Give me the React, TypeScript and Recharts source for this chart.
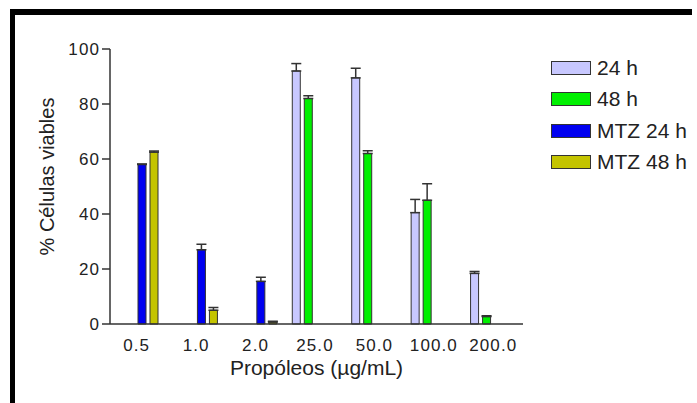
import { BarChart, Bar, XAxis, YAxis, ErrorBar } from "recharts";

const categories = ["0.5", "1.0", "2.0", "25.0", "50.0", "100.0", "200.0"];
const h24 = [null, null, null, 92, 89.5, 40.5, 18.4];
const h24Err = [null, null, null, 2.7, 3.5, 4.8, 0.7];
const h48 = [null, null, null, 82, 62, 45, 2.7];
const h48Err = [null, null, null, 1, 1, 6, 0.3];
const mtz24 = [58, 27, 15.5, null, null, null, null];
const mtz24Err = [0.2, 2, 1.5, null, null, null, null];
const mtz48 = [62.5, 5, 0.7, null, null, null, null];
const mtz48Err = [0.4, 1, 0.3, null, null, null, null];
const yTicks = [0, 20, 40, 60, 80, 100];

const FONT = "'Liberation Sans', Arial, sans-serif";
const INK = "#222";
const EDGE = "#333";
const TICK = { fontFamily: FONT, fontSize: 17, fill: INK, letterSpacing: 1.1 };

const series = [
  { key: "h24", name: "24 h", color: "#c8c8ff" },
  { key: "h48", name: "48 h", color: "#00f000" },
  { key: "mtz24", name: "MTZ 24 h", color: "#0000f0" },
  { key: "mtz48", name: "MTZ 48 h", color: "#c4c400" },
];

const data = categories.map((cat, i) => ({
  cat,
  h24: h24[i],
  h24Err: h24Err[i] == null ? null : [0, h24Err[i]],
  h48: h48[i],
  h48Err: h48Err[i] == null ? null : [0, h48Err[i]],
  mtz24: mtz24[i],
  mtz24Err: mtz24Err[i] == null ? null : [0, mtz24Err[i]],
  mtz48: mtz48[i],
  mtz48Err: mtz48Err[i] == null ? null : [0, mtz48Err[i]],
}));

function YTitle({ viewBox }: any) {
  const x = viewBox.x - 13;
  const y = viewBox.y + viewBox.height / 2 - 10;
  return (
    <text x={x} y={y} transform={`rotate(-90 ${x} ${y})`} textAnchor="middle" dominantBaseline="central"
      fontFamily={FONT} fontSize={20} fill={INK}>
      % Células viables
    </text>
  );
}

function XTitle({ viewBox }: any) {
  return (
    <text x={viewBox.x + viewBox.width / 2} y={viewBox.y + 51} textAnchor="middle"
      fontFamily={FONT} fontSize={21} fill={INK}>
      Propóleos (µg/mL)
    </text>
  );
}

function BoxLegend() {
  return (
    <div style={{ position: "absolute", left: 551, top: 52, fontFamily: FONT, fontSize: 21, color: INK }}>
      {series.map((s) => (
        <div key={s.key} style={{ display: "flex", alignItems: "center", height: 31.5 }}>
          <span style={{ width: 40, height: 14, boxSizing: "border-box", border: `1.5px solid ${EDGE}`, background: s.color }} />
          <span style={{ marginLeft: 6, whiteSpace: "nowrap" }}>{s.name}</span>
        </div>
      ))}
    </div>
  );
}

export default function App() {
  return (
    <div style={{ position: "absolute", left: 0, top: 0, width: 697, height: 403, background: "#fff" }}>
      <div style={{ position: "absolute", left: 10, top: 9, width: 682, height: 394, boxSizing: "border-box",
        borderTop: "6px solid #000", borderLeft: "5px solid #000" }} />
      <BarChart width={697} height={403} data={data} margin={{ top: 49, right: 174, left: 60, bottom: 34 }}
        barCategoryGap={7} barGap={4}>
        <XAxis dataKey="cat" interval={0} tickLine={false} axisLine={{ stroke: EDGE, strokeWidth: 1.5 }}
          padding={{ left: -3, right: 0 }} height={45} tickMargin={9}
          tick={TICK} label={<XTitle />} />
        <YAxis domain={[0, 100]} ticks={yTicks} width={50} tickSize={8} tickMargin={2}
          axisLine={{ stroke: EDGE, strokeWidth: 1.5 }} tickLine={{ stroke: EDGE, strokeWidth: 1.5 }}
          tick={TICK} label={<YTitle />} />
        {series.map((s) => (
          <Bar key={s.key} dataKey={s.key} name={s.name} fill={s.color} stroke={EDGE} strokeWidth={1}
            isAnimationActive={false}>
            <ErrorBar dataKey={`${s.key}Err`} direction="y" width={5} stroke={EDGE} strokeWidth={1.5}
              isAnimationActive={false} />
          </Bar>
        ))}
      </BarChart>
      <BoxLegend />
    </div>
  );
}
